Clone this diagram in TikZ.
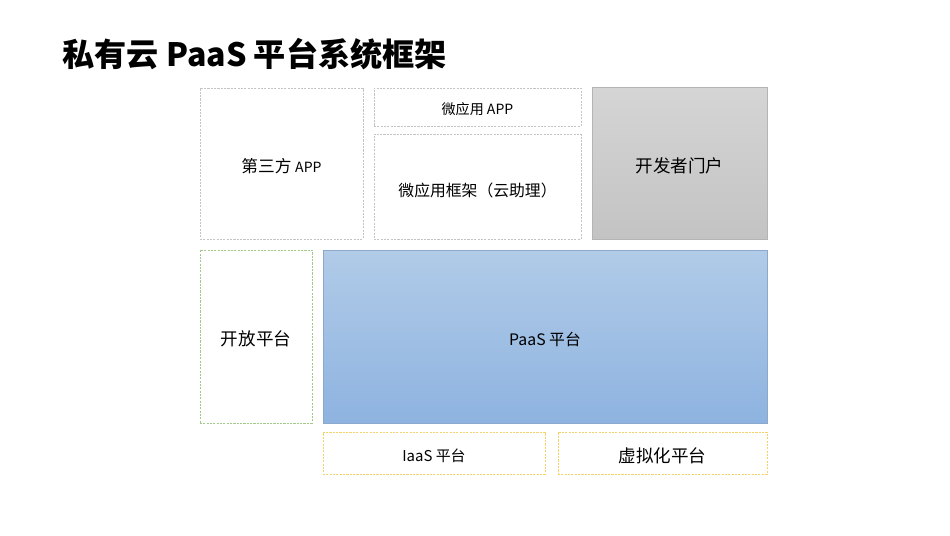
\documentclass[tikz,border=0pt]{standalone}
\usepackage{fontspec}
\setmainfont{Noto Sans CJK SC}
\newfontfamily\cjk{Noto Sans CJK SC}
\usepackage{xcolor}

\definecolor{dashgray}{HTML}{C4C4C4}
\definecolor{dashgreen}{HTML}{A3C98A}
\definecolor{dashyellow}{HTML}{F4D36A}
\definecolor{portalline}{HTML}{B4B4B4}
\definecolor{paastop}{HTML}{B1CBE8}
\definecolor{paasbot}{HTML}{8EB3E0}
\definecolor{paasline}{HTML}{8CA9CC}

% nudge a label down a little, keeping its box
\newcommand{\dn}[1]{\raisebox{-1.4pt}[\height][\depth]{#1}}

\tikzset{
  box/.style={draw, line width=0.5pt, dash pattern=on 1.2pt off 0.7pt, inner sep=0pt, font=\cjk},
}

\begin{document}
\begin{tikzpicture}[x=0.02cm, y=-0.02cm]
% fix the page to the slide size
\useasboundingbox (0,0) rectangle (950,535);

% title
\node[anchor=west, inner sep=0pt, font=\cjk\bfseries\fontsize{18.3}{22}\selectfont] (title) at (62,54) {私有云 PaaS 平台系统框架};

% top row
\node[box, draw=dashgray, minimum width=3.26cm, minimum height=3.02cm, font=\cjk\fontsize{9.5}{11}\selectfont] (thirdapp) at (281.5,163.5) {\dn{第三方 {\fontsize{8}{10}\selectfont APP}}};
\node[box, draw=dashgray, minimum width=4.14cm, minimum height=0.76cm, font=\cjk\fontsize{8}{10}\selectfont] (microapp) at (477.5,107) {\dn{微应用 APP}};
\node[box, draw=dashgray, minimum width=4.14cm, minimum height=2.1cm, font=\cjk\fontsize{9}{11}\selectfont] (microframe) at (477.5,186.5) {\raisebox{-2pt}[\height][\depth]{微应用框架（云助理）}};

% developer portal, grey shaded
\node[draw=portalline, line width=0.5pt, top color=gray!33, bottom color=gray!47, minimum width=3.5cm, minimum height=3.04cm, inner sep=0pt, font=\cjk\fontsize{10}{12}\selectfont] (portal) at (679.5,163) {\dn{开发者门户}};

% middle row
\node[box, draw=dashgreen, minimum width=2.24cm, minimum height=3.46cm, font=\cjk\fontsize{10}{12}\selectfont] (openplat) at (256,336.5) {\dn{开放平台}};
\node[draw=paasline, line width=0.5pt, top color=paastop, bottom color=paasbot, minimum width=8.88cm, minimum height=3.46cm, inner sep=0pt, font=\cjk\fontsize{9}{11}\selectfont] (paas) at (545,336.5) {\dn{PaaS 平台}};

% bottom row
\node[box, draw=dashyellow, minimum width=4.44cm, minimum height=0.84cm, font=\cjk\fontsize{8.5}{10}\selectfont] (iaas) at (434,453) {\dn{IaaS 平台}};
\node[box, draw=dashyellow, minimum width=4.18cm, minimum height=0.84cm, font=\cjk\fontsize{10}{12}\selectfont] (virt) at (662.5,453) {\dn{虚拟化平台}};

\end{tikzpicture}
\end{document}
